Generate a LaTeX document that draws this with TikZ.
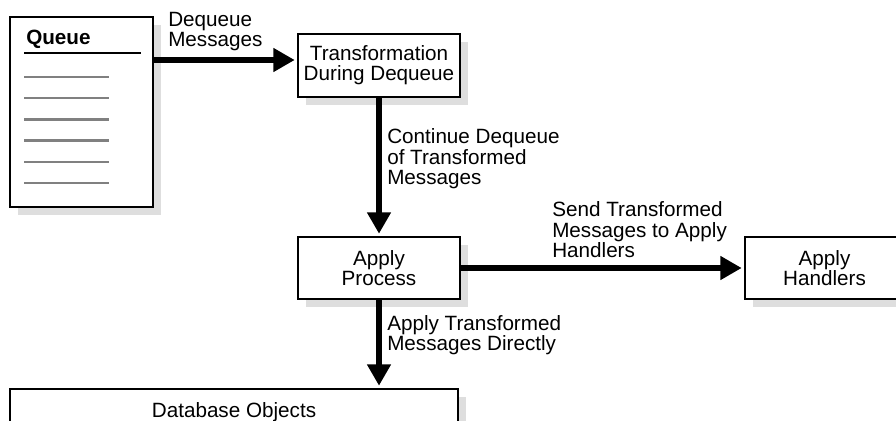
\documentclass[tikz,border=0pt]{standalone}
\usepackage{fontspec}
\setmainfont{Liberation Sans}
\usetikzlibrary{shapes}
\usetikzlibrary{positioning}
\usetikzlibrary{shadows}
\usetikzlibrary{arrows.meta}

\begin{document}
\begin{tikzpicture}[x=0.75pt,y=-0.75pt]
\tikzstyle{every node}=[font=\fontsize{15.5}{15.2}\selectfont]
\tikzstyle{box}=[draw=black,line width=1.9pt,fill=white,inner sep=0pt,align=center,
  drop shadow={shadow xshift=6pt,shadow yshift=-6pt,fill=black!13,opacity=1}]
\tikzstyle{lbl}=[anchor=north west,align=left,inner sep=0pt]
\tikzstyle{arr}=[line width=4pt,-{Triangle[length=16pt,width=17pt]},shorten >=1.5pt]
\path[use as bounding box,clip] (0,0) rectangle (896,421);
% queue
\node[box,minimum width=107.25pt,minimum height=142.5pt] (queue) at (81.5,112) {};
\node[anchor=base west,inner sep=0pt,font=\fontsize{15.5}{15.2}\selectfont\bfseries] (qtitle) at (26,44) {Queue};
\draw[line width=1.9pt] (24,53) -- (141,53);
\foreach \i in {0,...,5}
  \draw[line width=1.8pt,black!50] (24,{76.7+21.3*\i}) -- (109,{76.7+21.3*\i});
% boxes
\node[box,minimum width=121.5pt,minimum height=47.25pt] (trans) at (379,65.5) {Transformation\\During Dequeue};
\node[box,minimum width=121.5pt,minimum height=46.5pt] (apply) at (379,268) {Apply\\Process};
\node[box,minimum width=119.25pt,minimum height=46.5pt] (handlers) at (824.5,268) {Apply\\Handlers};
\node[box,minimum width=336pt,minimum height=34.5pt] (db) at (234,412) {Database Objects};
% labels
\node[lbl] (deqlbl) at (168,12) {Dequeue\\Messages};
\node[lbl] (contlbl) at (387,128.5) {Continue Dequeue\\of Transformed\\Messages};
\node[lbl] (sendlbl) at (552,201.5) {Send Transformed\\Messages to Apply\\Handlers};
\node[lbl] (dirlbl) at (387,315) {Apply Transformed\\Messages Directly};
% arrows
\coordinate (qout) at (153,60);
\draw[arr] (qout) -- (trans.west |- qout);
\draw[arr] (trans.south) -- (apply.north);
\draw[arr] (apply.east) -- (handlers.west);
\draw[arr] (apply.south) -- (db.north -| apply.south);
\end{tikzpicture}
\end{document}
